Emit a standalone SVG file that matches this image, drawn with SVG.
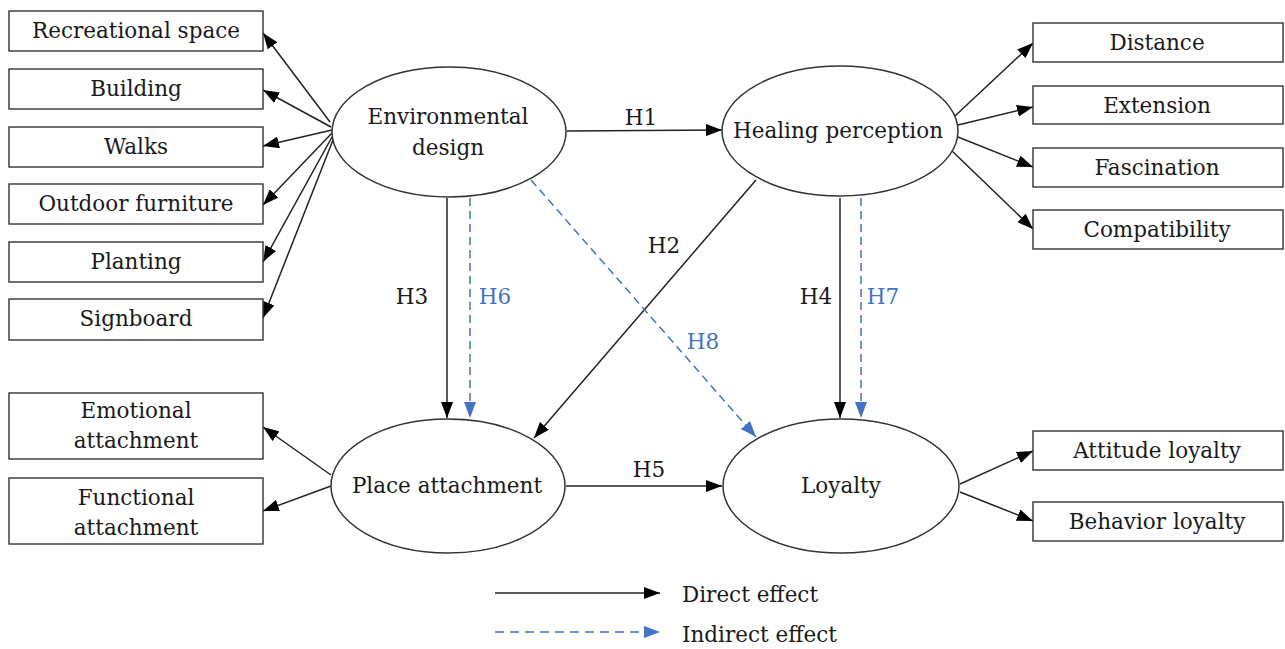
<svg xmlns="http://www.w3.org/2000/svg" width="1285" height="649" viewBox="0 0 1285 649">
<style>
.box{fill:#fff;stroke:#333;stroke-width:1.4}
.ell{fill:#fff;stroke:#333;stroke-width:1.5}
.t{font-family:"DejaVu Serif","Liberation Serif",serif;font-size:21.5px;fill:#1a1a1a;text-anchor:middle}
.tb{font-family:"DejaVu Serif","Liberation Serif",serif;font-size:21.5px;fill:#4472C4;text-anchor:middle}
.c{stroke:#222;stroke-width:1.5;fill:none;marker-end:url(#ab)}
.d{stroke:#4472C4;stroke-width:1.5;fill:none;stroke-dasharray:8 5;marker-end:url(#abl)}
</style>
<defs>
<marker id="ab" viewBox="0 0 16 12" refX="16" refY="6" markerWidth="16" markerHeight="12" markerUnits="userSpaceOnUse" orient="auto"><path d="M0,0 L16,6 L0,12 z" fill="#000"/></marker>
<marker id="abl" viewBox="0 0 16 12" refX="16" refY="6" markerWidth="16" markerHeight="12" markerUnits="userSpaceOnUse" orient="auto"><path d="M0,0 L16,6 L0,12 z" fill="#4472C4"/></marker>
</defs>
<rect width="1285" height="649" fill="#fff"/>

<g id="connectors">
<line class="c" x1="330" y1="122" x2="263" y2="33"/>
<line class="c" x1="331" y1="127" x2="263" y2="90"/>
<line class="c" x1="332" y1="130" x2="263" y2="146"/>
<line class="c" x1="332" y1="133" x2="263" y2="205"/>
<line class="c" x1="332" y1="137" x2="263" y2="262"/>
<line class="c" x1="333" y1="140" x2="263" y2="318"/>
<line class="c" x1="955" y1="116" x2="1033" y2="43"/>
<line class="c" x1="958" y1="125" x2="1033" y2="107"/>
<line class="c" x1="958" y1="137" x2="1033" y2="167"/>
<line class="c" x1="951" y1="150" x2="1033" y2="229"/>
<line class="c" x1="331" y1="475" x2="263" y2="427"/>
<line class="c" x1="331" y1="486" x2="263" y2="511"/>
<line class="c" x1="960" y1="484" x2="1033" y2="451"/>
<line class="c" x1="960" y1="492" x2="1033" y2="521"/>
<line class="c" x1="567" y1="131" x2="722" y2="130"/>
<line class="c" x1="447" y1="198" x2="447" y2="418"/>
<line class="d" x1="470" y1="198" x2="470" y2="418"/>
<line class="c" x1="756" y1="180" x2="534" y2="438"/>
<line class="d" x1="531" y1="180" x2="756" y2="437"/>
<line class="c" x1="840" y1="198" x2="840" y2="418"/>
<line class="d" x1="861" y1="198" x2="861" y2="418"/>
<line class="c" x1="566" y1="486" x2="722" y2="486"/>
<text class="t" x="641" y="125">H1</text>
<text class="t" x="664" y="253">H2</text>
<text class="t" x="412" y="304">H3</text>
<text class="tb" x="495" y="304">H6</text>
<text class="tb" x="703" y="349">H8</text>
<text class="t" x="816" y="304">H4</text>
<text class="tb" x="883" y="304">H7</text>
<text class="t" x="649" y="477">H5</text>
</g>

<g id="env-design"><ellipse class="ell" cx="449" cy="132" rx="117" ry="65"/><text class="t" x="448" y="124">Environmental</text><text class="t" x="448" y="155">design</text></g>
<g id="healing"><ellipse class="ell" cx="840" cy="131" rx="118" ry="65"/><text class="t" x="838" y="138">Healing perception</text></g>
<g id="place"><ellipse class="ell" cx="448" cy="486" rx="117" ry="67"/><text class="t" x="447" y="493">Place attachment</text></g>
<g id="loyalty"><ellipse class="ell" cx="841" cy="486" rx="118" ry="67"/><text class="t" x="841" y="493">Loyalty</text></g>

<g id="recreational"><rect class="box" x="9" y="11" width="254" height="40"/><text class="t" x="136" y="38">Recreational space</text></g>
<g id="building"><rect class="box" x="9" y="69" width="254" height="40"/><text class="t" x="136" y="96">Building</text></g>
<g id="walks"><rect class="box" x="9" y="127" width="254" height="40"/><text class="t" x="136" y="154">Walks</text></g>
<g id="outdoor"><rect class="box" x="9" y="184" width="254" height="40"/><text class="t" x="136" y="211">Outdoor furniture</text></g>
<g id="planting"><rect class="box" x="9" y="242" width="254" height="40"/><text class="t" x="136" y="269">Planting</text></g>
<g id="signboard"><rect class="box" x="9" y="299" width="254" height="41"/><text class="t" x="136" y="326">Signboard</text></g>
<g id="emotional"><rect class="box" x="9" y="393" width="254" height="66"/><text class="t" x="136" y="418">Emotional</text><text class="t" x="136" y="448">attachment</text></g>
<g id="functional"><rect class="box" x="9" y="478" width="254" height="66"/><text class="t" x="136" y="505">Functional</text><text class="t" x="136" y="535">attachment</text></g>

<g id="distance"><rect class="box" x="1033" y="23" width="250" height="39"/><text class="t" x="1157" y="50">Distance</text></g>
<g id="extension"><rect class="box" x="1033" y="86" width="250" height="38"/><text class="t" x="1157" y="113">Extension</text></g>
<g id="fascination"><rect class="box" x="1033" y="148" width="250" height="39"/><text class="t" x="1157" y="175">Fascination</text></g>
<g id="compatibility"><rect class="box" x="1033" y="210" width="250" height="39"/><text class="t" x="1157" y="237">Compatibility</text></g>
<g id="attitude"><rect class="box" x="1033" y="431" width="250" height="39"/><text class="t" x="1157" y="458">Attitude loyalty</text></g>
<g id="behavior"><rect class="box" x="1033" y="502" width="250" height="39"/><text class="t" x="1157" y="529">Behavior loyalty</text></g>

<g id="legend">
<line class="c" x1="495" y1="593" x2="660" y2="593"/>
<text class="t" x="682" y="602" style="text-anchor:start">Direct effect</text>
<line class="d" x1="495" y1="632" x2="660" y2="632" style="stroke-dasharray:9 6"/>
<text class="t" x="682" y="642" style="text-anchor:start">Indirect effect</text>
</g>
</svg>
